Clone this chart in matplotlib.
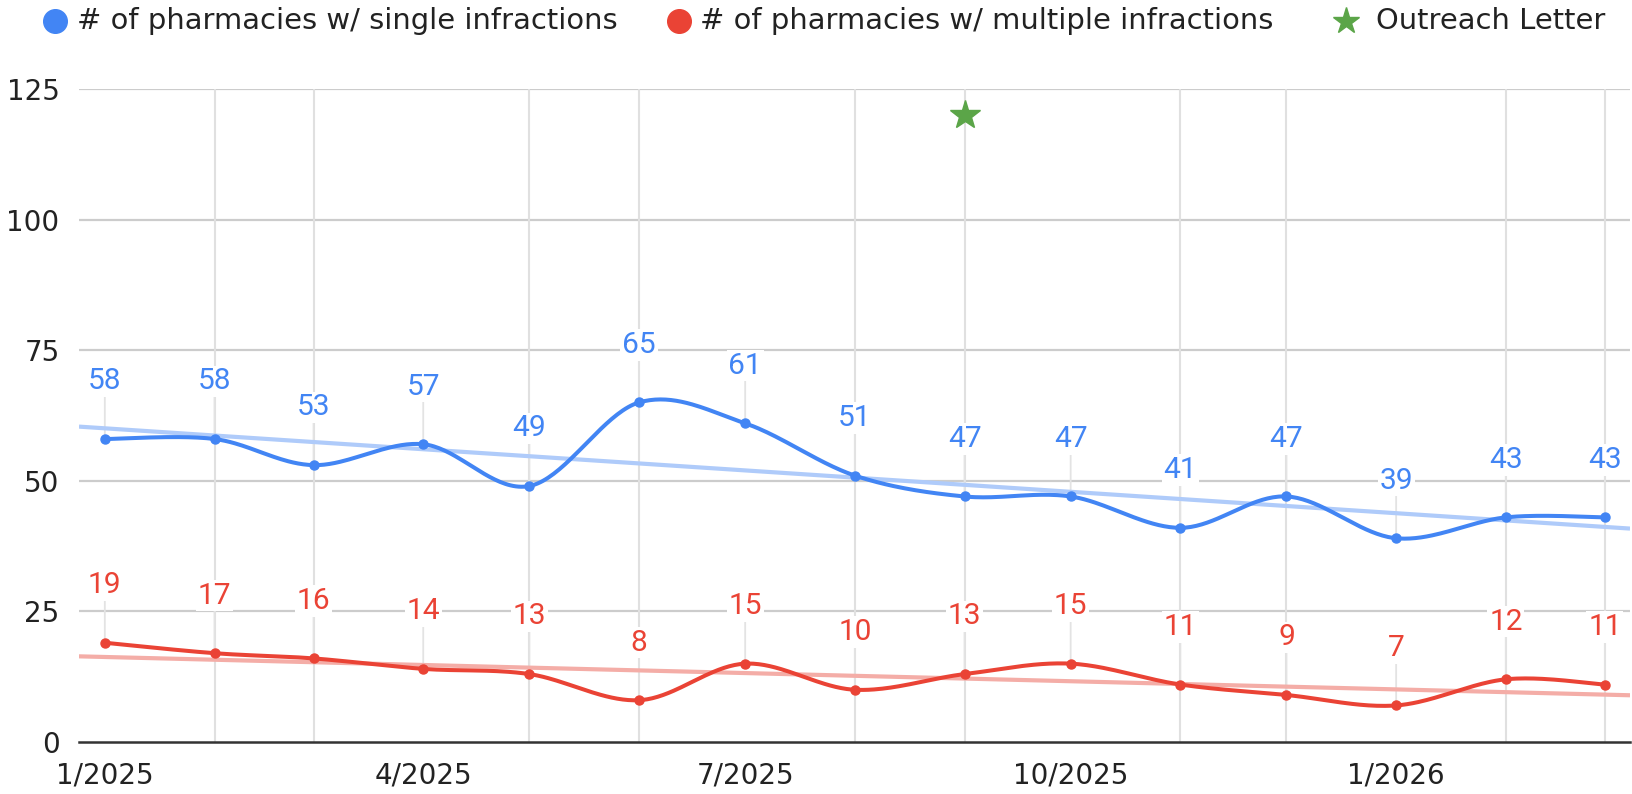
import numpy as np
import matplotlib
matplotlib.use('Agg')
import matplotlib.pyplot as plt
import matplotlib.dates as mdates
from matplotlib.lines import Line2D

# ---------------- data ----------------
months = ['2025-01-01', '2025-02-01', '2025-03-01', '2025-04-01', '2025-05-01',
          '2025-06-01', '2025-07-01', '2025-08-01', '2025-09-01', '2025-10-01',
          '2025-11-01', '2025-12-01', '2026-01-01', '2026-02-01', '2026-03-01']
single = [58, 58, 53, 57, 49, 65, 61, 51, 47, 47, 41, 47, 39, 43, 43]
multiple = [19, 17, 16, 14, 13, 8, 15, 10, 13, 15, 11, 9, 7, 12, 11]
outreach_month = ['2025-09-01']
outreach_value = [120]
tick_months = ['2025-01-01', '2025-04-01', '2025-07-01', '2025-10-01', '2026-01-01']
tick_labels = ['1/2025', '4/2025', '7/2025', '10/2025', '1/2026']
yticks = [0, 25, 50, 75, 100, 125]
series_names = ['# of pharmacies w/ single infractions',
                '# of pharmacies w/ multiple infractions',
                'Outreach Letter']

BLUE = '#4285F4'
RED = '#EA4335'
GREEN = '#5BA548'
BLUE_TREND = '#AFCBFA'
RED_TREND = '#F4ADA7'

plt.rcParams['font.family'] = ['DejaVu Sans']

W, H = 1633, 794
fig = plt.figure(figsize=(W / 100, H / 100), dpi=100)
ax = fig.add_axes([79 / W, 1 - 742 / H, (1630 - 79) / W, (742 - 89) / H])

x = mdates.datestr2num(months)
xt = mdates.datestr2num(tick_months)
xo = mdates.datestr2num(outreach_month)


def catmull_rom(xs, ys, n=40):
    P = np.column_stack([xs, ys]).astype(float)
    P = np.vstack([P[0], P, P[-1]])
    t = np.linspace(0, 1, n, endpoint=False)[:, None]
    pts = []
    for i in range(1, len(P) - 2):
        p0, p1, p2, p3 = P[i - 1], P[i], P[i + 1], P[i + 2]
        seg = 0.5 * ((2 * p1) + (-p0 + p2) * t +
                     (2 * p0 - 5 * p1 + 4 * p2 - p3) * t ** 2 +
                     (-p0 + 3 * p1 - 3 * p2 + p3) * t ** 3)
        pts.append(seg)
    pts.append(P[-2][None, :])
    pts = np.vstack(pts)
    return pts[:, 0], pts[:, 1]


xmin, xmax = x[0] - 7.3, x[-1] + 7.1
ax.set_xlim(xmin, xmax)
ax.set_ylim(0, 125)

# gridlines
for yv in yticks[1:]:
    ax.axhline(yv, color='#CCCCCC', lw=1.6, zorder=0)
for xv in x:
    if not np.any(np.isclose(xv, xt)):
        ax.axvline(xv, color='#E0E0E0', lw=1.5, zorder=0)

# trendlines
xx = np.array([xmin, xmax])
for vals, c in [(single, BLUE_TREND), (multiple, RED_TREND)]:
    k, b = np.polyfit(x, vals, 1)
    ax.plot(xx, k * xx + b, color=c, lw=3.0, zorder=2, solid_capstyle='butt')

# series
for vals, c in [(single, BLUE), (multiple, RED)]:
    sx, sy = catmull_rom(x, vals)
    ax.plot(sx, sy, color=c, lw=2.9, zorder=3, solid_capstyle='round')
    ax.plot(x, vals, 'o', color=c, ms=6.5, zorder=4)
    for xi, v in zip(x, vals):
        ax.annotate('', xy=(xi, v), xytext=(0, 41.5), textcoords='offset points',
                    arrowprops=dict(arrowstyle='-', color='#E3E3E3', lw=1.3,
                                    shrinkA=0, shrinkB=0), zorder=1)
        ax.annotate(str(v), xy=(xi, v), xytext=(0, 41.5), textcoords='offset points',
                    ha='center', va='center', fontsize=21.5, color=c,
                    family=['Roboto', 'DejaVu Sans'], zorder=5,
                    bbox=dict(boxstyle='square,pad=0.06', fc='white', ec='none'))

# outreach star
ax.plot(xo, outreach_value, marker='*', color=GREEN, ms=22, ls='none', zorder=5)

# axes styling
for s in ['top', 'right', 'left']:
    ax.spines[s].set_visible(False)
ax.spines['bottom'].set_color('#333333')
ax.spines['bottom'].set_linewidth(1.8)
ax.spines['bottom'].set_zorder(6)
ax.set_yticks(yticks)
ax.set_yticklabels([str(v) for v in yticks])
ax.set_xticks(xt)
ax.set_xticklabels(tick_labels)
ax.tick_params(axis='both', length=0, labelsize=20, colors='#222222')
ax.tick_params(axis='y', pad=14)
ax.tick_params(axis='x', pad=14)

# legend (manual layout)
ly = 1 - 21 / H
items = [(55, 77, 'o', BLUE, 17, series_names[0]),
         (679, 700, 'o', RED, 17, series_names[1]),
         (1346, 1376, '*', GREEN, 20, series_names[2])]
for mx, tx, mk, c, ms, lab in items:
    fig.add_artist(Line2D([mx / W], [ly], marker=mk, color=c, ms=ms, ls='none',
                          transform=fig.transFigure))
    fig.text(tx / W, ly, lab, fontsize=20.9, color='#222222', ha='left', va='center')

fig.savefig('out.png', dpi=100, facecolor='white')
